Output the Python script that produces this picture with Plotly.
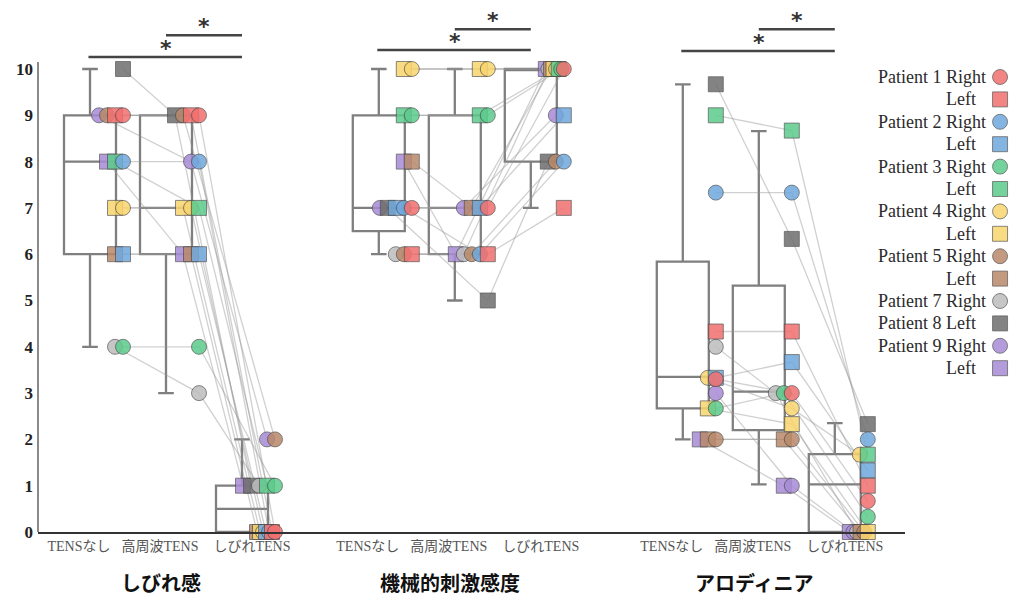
import plotly.graph_objects as go

# ---------------- data ----------------
subjects = ["P1R", "P1L", "P2R", "P2L", "P3R", "P3L", "P4R", "P4L",
            "P5R", "P5L", "P7R", "P8L", "P9R", "P9L"]
legend_labels = ["Patient 1 Right", "Left", "Patient 2 Right", "Left",
                 "Patient 3 Right", "Left", "Patient 4 Right", "Left",
                 "Patient 5 Right", "Left", "Patient 7 Right", "Patient 8 Left",
                 "Patient 9 Right", "Left"]
subject_colors = ["#F26F6F", "#F26F6F", "#6FA8DC", "#6FA8DC", "#5CCB8C", "#5CCB8C",
                  "#F9D56E", "#F9D56E", "#B9896A", "#B9896A", "#BDBDBD", "#6E6E6E",
                  "#A88BD6", "#A88BD6"]
subject_symbols = ["circle", "square", "circle", "square", "circle", "square",
                   "circle", "square", "circle", "square", "circle", "square",
                   "circle", "square"]

group_labels = ["TENSなし", "高周波TENS", "しびれTENS"]
panel_titles = ["しびれ感", "機械的刺激感度", "アロディニア"]

# しびれ感
shibire_none = [9, 9, 8, 6, 4, 8, 7, 7, 9, 6, 4, 10, 9, 8]
shibire_high = [9, 9, 8, 6, 4, 7, 7, 7, 9, 6, 3, 9, 8, 6]
shibire_tens = [0, 0, 0, 0, 1, 1, 0, 0, 2, 0, 1, 1, 2, 1]
# 機械的刺激感度
mech_none = [7, 6, 7, 7, 9, 9, 10, 10, 6, 8, 6, 7, 7, 8]
mech_high = [7, 6, 6, 7, 9, 9, 10, 10, 6, 7, 6, 5, 7, 6]
mech_tens = [10, 7, 8, 9, 10, 10, 10, 10, 8, 10, 10, 8, 9, 10]
# アロディニア
allo_none = [3.3, 4.33, 7.33, 3.33, 2.67, 9.0, 3.33, 2.67, 2.0, 2.0, 4.0, 9.67, 3.0, 2.0]
allo_high = [3.0, 4.33, 7.33, 3.67, 3.0, 8.67, 2.67, 2.33, 2.0, 2.0, 3.0, 6.33, 1.0, 1.0]
allo_tens = [0.67, 1.0, 2.0, 1.33, 0.33, 1.67, 1.67, 0.0, 0.0, 0.0, 0.0, 2.33, 0.0, 0.0]

# box summary statistics (per panel: none, high, tens)
box_q1 = [[6, 6, 0], [6.5, 6, 8], [2.67, 2.2, 0]]
box_median = [[8, 7, 0.5], [7, 7, 10], [3.35, 3.03, 1.03]]
box_q3 = [[9, 9, 1], [9, 9, 10], [5.84, 5.32, 1.68]]
box_low = [[4, 3, 0], [6, 5, 7], [2.0, 1.03, 0]]
box_high = [[10, 9, 2], [10, 10, 10], [9.67, 8.66, 2.35]]

y_ticks = list(range(0, 11))

panel_values = [[shibire_none, shibire_high, shibire_tens],
                [mech_none, mech_high, mech_tens],
                [allo_none, allo_high, allo_tens]]

# ---------------- layout helpers ----------------
W, H = 1024, 610
panel_starts = [0.0, 3.8, 7.8]
PX_PER_UNIT = 76.0
X0_PX, X1_PX = 38, 905
Y0_PX, Y1_PX = 532, 10
Y_PX_PER_UNIT = 46.3
x_range = [(X0_PX - 90) / PX_PER_UNIT, (X1_PX - 90) / PX_PER_UNIT]
y_range = [0, (Y0_PX - Y1_PX) / Y_PX_PER_UNIT]

BASE = 33 / PX_PER_UNIT
STEP = 8 / PX_PER_UNIT
BIG_SPREAD = 18 / PX_PER_UNIT
label_shift = [-11 / PX_PER_UNIT, -6 / PX_PER_UNIT, 10 / PX_PER_UNIT]


def offsets(vals):
    res = [BASE] * len(vals)
    ties = {}
    for i, v in enumerate(vals):
        ties.setdefault(round(v * 20), []).append(i)
    for idx in ties.values():
        n = len(idx)
        if n > 1:
            st = STEP if n <= 5 else BIG_SPREAD / (n - 1)
            for k, i in enumerate(sorted(idx)):
                res[i] = BASE - k * st
    return res


pos_x = [[[0] * len(subjects) for _ in range(3)] for _ in range(3)]
for p in range(3):
    for g in range(3):
        off = offsets(panel_values[p][g])
        for i in range(len(subjects)):
            pos_x[p][g][i] = panel_starts[p] + g + off[i]

fig = go.Figure()

# boxes
for p in range(3):
    fig.add_trace(go.Box(
        x=[panel_starts[p] + g for g in range(3)],
        q1=box_q1[p], median=box_median[p], q3=box_q3[p],
        lowerfence=box_low[p], upperfence=box_high[p],
        orientation="v", width=52 / PX_PER_UNIT, whiskerwidth=0.3,
        boxpoints=False, fillcolor="rgba(0,0,0,0)",
        line=dict(color="#7f7f7f", width=2.3),
        showlegend=False, hoverinfo="skip"))

# connecting lines
for i, s in enumerate(subjects):
    xs, ys = [], []
    for p in range(3):
        for g in range(3):
            xs.append(pos_x[p][g][i])
            ys.append(panel_values[p][g][i])
        xs.append(None)
        ys.append(None)
    fig.add_trace(go.Scatter(x=xs, y=ys, mode="lines",
                             line=dict(color="rgba(150,150,150,0.45)", width=1.3),
                             showlegend=False, hoverinfo="skip", connectgaps=False))

# markers (lowest index on top)
for i in reversed(range(len(subjects))):
    xs, ys = [], []
    for p in range(3):
        for g in range(3):
            xs.append(pos_x[p][g][i])
            ys.append(panel_values[p][g][i])
    fig.add_trace(go.Scatter(
        x=xs, y=ys, mode="markers", name=legend_labels[i], cliponaxis=False,
        marker=dict(size=15, color=subject_colors[i], symbol=subject_symbols[i],
                    opacity=0.85, line=dict(color="rgba(70,70,70,0.75)", width=1)),
        showlegend=False))

# manual legend (marker right of text)
leg_idx = list(range(len(legend_labels)))
fig.add_trace(go.Scatter(
    x=[0.854] * len(leg_idx), y=leg_idx, xaxis="x2", yaxis="y2", mode="markers",
    marker=dict(size=15, color=subject_colors, symbol=subject_symbols, opacity=0.85,
                line=dict(color="rgba(70,70,70,0.75)", width=1)),
    showlegend=False, hoverinfo="skip", cliponaxis=False))

annotations = []
for i, lab in enumerate(legend_labels):
    annotations.append(dict(
        x=0.854, y=i, xref="x2", yref="y2", text=lab, showarrow=False,
        xanchor="right", yanchor="middle",
        xshift=-22 if lab.endswith("Left") else -12,
        font=dict(family="Liberation Serif", size=18, color="#2b2b2b")))

# panel titles
for p in range(3):
    annotations.append(dict(
        x=panel_starts[p] + 1 - 0.06, y=(H - 582) / H, xref="x", yref="paper",
        text=panel_titles[p], showarrow=False, xanchor="center", yanchor="middle",
        font=dict(family="Noto Sans CJK JP", size=20, color="#111", weight="bold")))

# significance bars
sig_long_y = [10.26, 10.41, 10.39]
sig_short_y = [10.73, 10.86, 10.86]
shapes = []
for p in range(3):
    s0 = panel_starts[p]
    shapes.append(dict(type="line", xref="x", yref="y", x0=s0 - 0.02, x1=s0 + 2.0,
                       y0=sig_long_y[p], y1=sig_long_y[p],
                       line=dict(color="#444", width=2.5)))
    shapes.append(dict(type="line", xref="x", yref="y", x0=s0 + 1.0, x1=s0 + 2.0,
                       y0=sig_short_y[p], y1=sig_short_y[p],
                       line=dict(color="#444", width=2.5)))
    annotations.append(dict(x=s0 + 1.0, y=sig_long_y[p], xref="x", yref="y", text="*",
                            showarrow=False, yanchor="bottom", yshift=-6,
                            font=dict(family="DejaVu Sans", size=22, color="#333", weight="bold")))
    annotations.append(dict(x=s0 + 1.5, y=sig_short_y[p], xref="x", yref="y", text="*",
                            showarrow=False, yanchor="bottom", yshift=-6,
                            font=dict(family="DejaVu Sans", size=22, color="#333", weight="bold")))

# y axis line (shorter than the plot area)
shapes.append(dict(type="line", xref="x domain", yref="y", x0=0, x1=0, y0=0,
                   y1=(Y0_PX - 62) / Y_PX_PER_UNIT, line=dict(color="#8a8a8a", width=2)))

tick_vals, tick_text = [], []
for p in range(3):
    for g in range(3):
        tick_vals.append(panel_starts[p] + g + label_shift[g])
        tick_text.append(group_labels[g])

fig.update_layout(
    width=W, height=H, autosize=False,
    margin=dict(l=0, r=0, t=0, b=0),
    paper_bgcolor="white", plot_bgcolor="white",
    boxmode="overlay", showlegend=False,
    xaxis=dict(domain=[X0_PX / W, X1_PX / W], range=x_range, showgrid=False,
               zeroline=False, showline=True, linecolor="#333", linewidth=2,
               tickmode="array", tickvals=tick_vals, ticktext=tick_text, ticks="",
               automargin=False,
               tickfont=dict(family="Liberation Serif, Noto Sans CJK JP", size=14,
                             color="#555")),
    yaxis=dict(domain=[(H - Y0_PX) / H, (H - Y1_PX) / H], range=y_range,
               showgrid=False, zeroline=False, showline=False, automargin=False,
               tickmode="array", tickvals=y_ticks, ticks="",
               ticklabelstandoff=4,
               tickfont=dict(family="Liberation Serif", size=17, color="#222",
                             weight="bold")),
    xaxis2=dict(domain=[860 / W, 1.0], range=[0, 1], visible=False, anchor="y2"),
    yaxis2=dict(domain=[(H - 385) / H, (H - 60) / H],
                range=[(385 - 77) / 22.4, -(77 - 60) / 22.4], visible=False, anchor="x2"),
    annotations=annotations, shapes=shapes,
)

fig.write_html("out.html", config={"displayModeBar": False},
               post_script="document.body.style.margin='0';document.body.style.overflow='hidden';")
